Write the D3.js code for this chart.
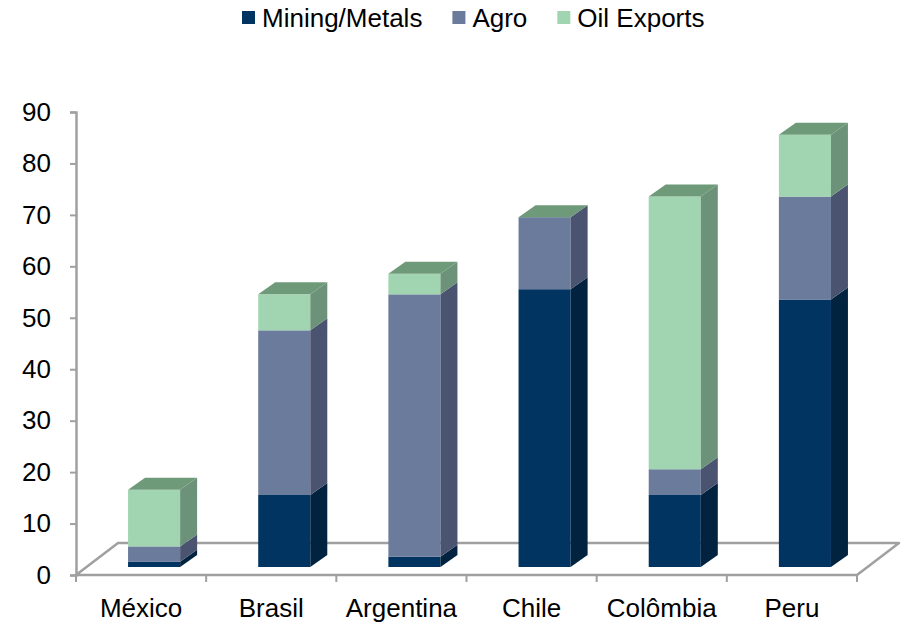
<!DOCTYPE html>
<html>
<head>
<meta charset="utf-8">
<script src="https://cdn.jsdelivr.net/npm/d3@7"></script>
<style>
  body { margin: 0; background: #fff; }
  svg { display: block; font-family: "Liberation Sans", Arial, sans-serif; }
</style>
</head>
<body>
<svg id="chart_svg" width="907" height="623"></svg>
<script>
var countries = ["México", "Brasil", "Argentina", "Chile", "Colômbia", "Peru"];
var mining = [1, 14, 2, 54, 14, 52];
var agro = [3, 32, 51, 14, 5, 20];
var oil = [11, 7, 4, 0, 53, 12];
var seriesNames = ["Mining/Metals", "Agro", "Oil Exports"];
var yTicks = [0, 10, 20, 30, 40, 50, 60, 70, 80, 90];

// front / side / top colors per series
var frontColor = ["#023461", "#6a7b9b", "#a1d5b1"];
var sideColor = ["#01233f", "#4a5471", "#6c9379"];
var topColor = "#6f9a79";
var fontSize = 26;

var svg, xScale, yScale;
var floorDepth = [42, -32];
var barDepth = [17, -12];
var barShift = [13, -8];

document.addEventListener('DOMContentLoaded', function () {
    svg = d3.select("#chart_svg");

    xScale = d3.scaleBand()
        .domain(countries)
        .range([76, 857]);
    yScale = d3.scaleLinear()
        .domain([0, 90])
        .range([575, 112]);

    drawFloor();
    drawBars();
    drawAxes();
    drawLegend();
});

function drawFloor() {
    var x0 = xScale.range()[0], x1 = xScale.range()[1], y0 = yScale(0);
    var pts = [[x0, y0], [x1, y0], [x1 + floorDepth[0], y0 + floorDepth[1]], [x0 + floorDepth[0], y0 + floorDepth[1]]];
    svg.append("path")
        .attr("d", "M" + pts.join("L") + "Z")
        .attr("fill", "none")
        .attr("stroke", "#a0a0a0")
        .attr("stroke-width", 2.5)
        .attr("stroke-linejoin", "round");
}

function drawBars() {
    var rows = countries.map(function (c, i) {
        return {country: c, values: [mining[i], agro[i], oil[i]]};
    });
    var bw = xScale.bandwidth() * 0.4;
    var dx = barDepth[0], dy = barDepth[1];

    var g = svg.append("g")
        .attr("transform", "translate(" + barShift[0] + "," + barShift[1] + ")");

    rows.forEach(function (d) {
        var left = xScale(d.country) + xScale.bandwidth() / 2 - bw / 2;
        var right = left + bw;
        var base = 0;
        d.values.forEach(function (v, s) {
            var yb = yScale(base), yt = yScale(base + v);
            if (v > 0) {
                g.append("rect")
                    .attr("x", left)
                    .attr("y", yt)
                    .attr("width", bw)
                    .attr("height", yb - yt)
                    .attr("fill", frontColor[s]);
                g.append("path")
                    .attr("d", "M" + right + "," + yb + "L" + (right + dx) + "," + (yb + dy) +
                        "L" + (right + dx) + "," + (yt + dy) + "L" + right + "," + yt + "Z")
                    .attr("fill", sideColor[s]);
            }
            base += v;
        });
        var ytop = yScale(base);
        g.append("path")
            .attr("d", "M" + left + "," + ytop + "L" + right + "," + ytop +
                "L" + (right + dx) + "," + (ytop + dy) + "L" + (left + dx) + "," + (ytop + dy) + "Z")
            .attr("fill", topColor);
    });
}

function drawAxes() {
    var yAxis = d3.axisLeft(yScale)
        .tickValues(yTicks)
        .tickSize(6)
        .tickPadding(19);
    var gy = svg.append("g")
        .attr("transform", "translate(" + xScale.range()[0] + ",0)")
        .call(yAxis);
    gy.select(".domain").attr("stroke", "#a0a0a0").attr("stroke-width", 2.5);
    gy.selectAll(".tick line").attr("stroke", "#a0a0a0").attr("stroke-width", 2);
    gy.selectAll(".tick text")
        .attr("font-size", fontSize)
        .attr("font-family", "Liberation Sans, Arial, sans-serif")
        .attr("fill", "#000");

    // category ticks at band boundaries
    var bounds = countries.map(function (c) { return xScale(c); }).concat([xScale.range()[1]]);
    svg.selectAll(".xtick")
        .data(bounds)
        .enter()
        .append("line")
        .attr("x1", function (d) { return d; })
        .attr("x2", function (d) { return d; })
        .attr("y1", yScale(0))
        .attr("y2", yScale(0) + 7)
        .attr("stroke", "#a0a0a0")
        .attr("stroke-width", 2);

    svg.selectAll(".xlabel")
        .data(countries)
        .enter()
        .append("text")
        .attr("x", function (d) { return xScale(d) + xScale.bandwidth() / 2; })
        .attr("y", 617)
        .attr("text-anchor", "middle")
        .attr("font-size", fontSize)
        .attr("fill", "#000")
        .text(function (d) { return d; });
}

function drawLegend() {
    var lg = svg.append("g");
    var x = 242;
    seriesNames.forEach(function (name, i) {
        lg.append("rect")
            .attr("x", x)
            .attr("y", 11)
            .attr("width", 13)
            .attr("height", 13)
            .attr("fill", frontColor[i]);
        var t = lg.append("text")
            .attr("x", x + 20)
            .attr("y", 27)
            .attr("font-size", fontSize)
            .attr("fill", "#000")
            .text(name);
        x += 20 + t.node().getComputedTextLength() + 30;
    });
}
</script>
</body>
</html>
